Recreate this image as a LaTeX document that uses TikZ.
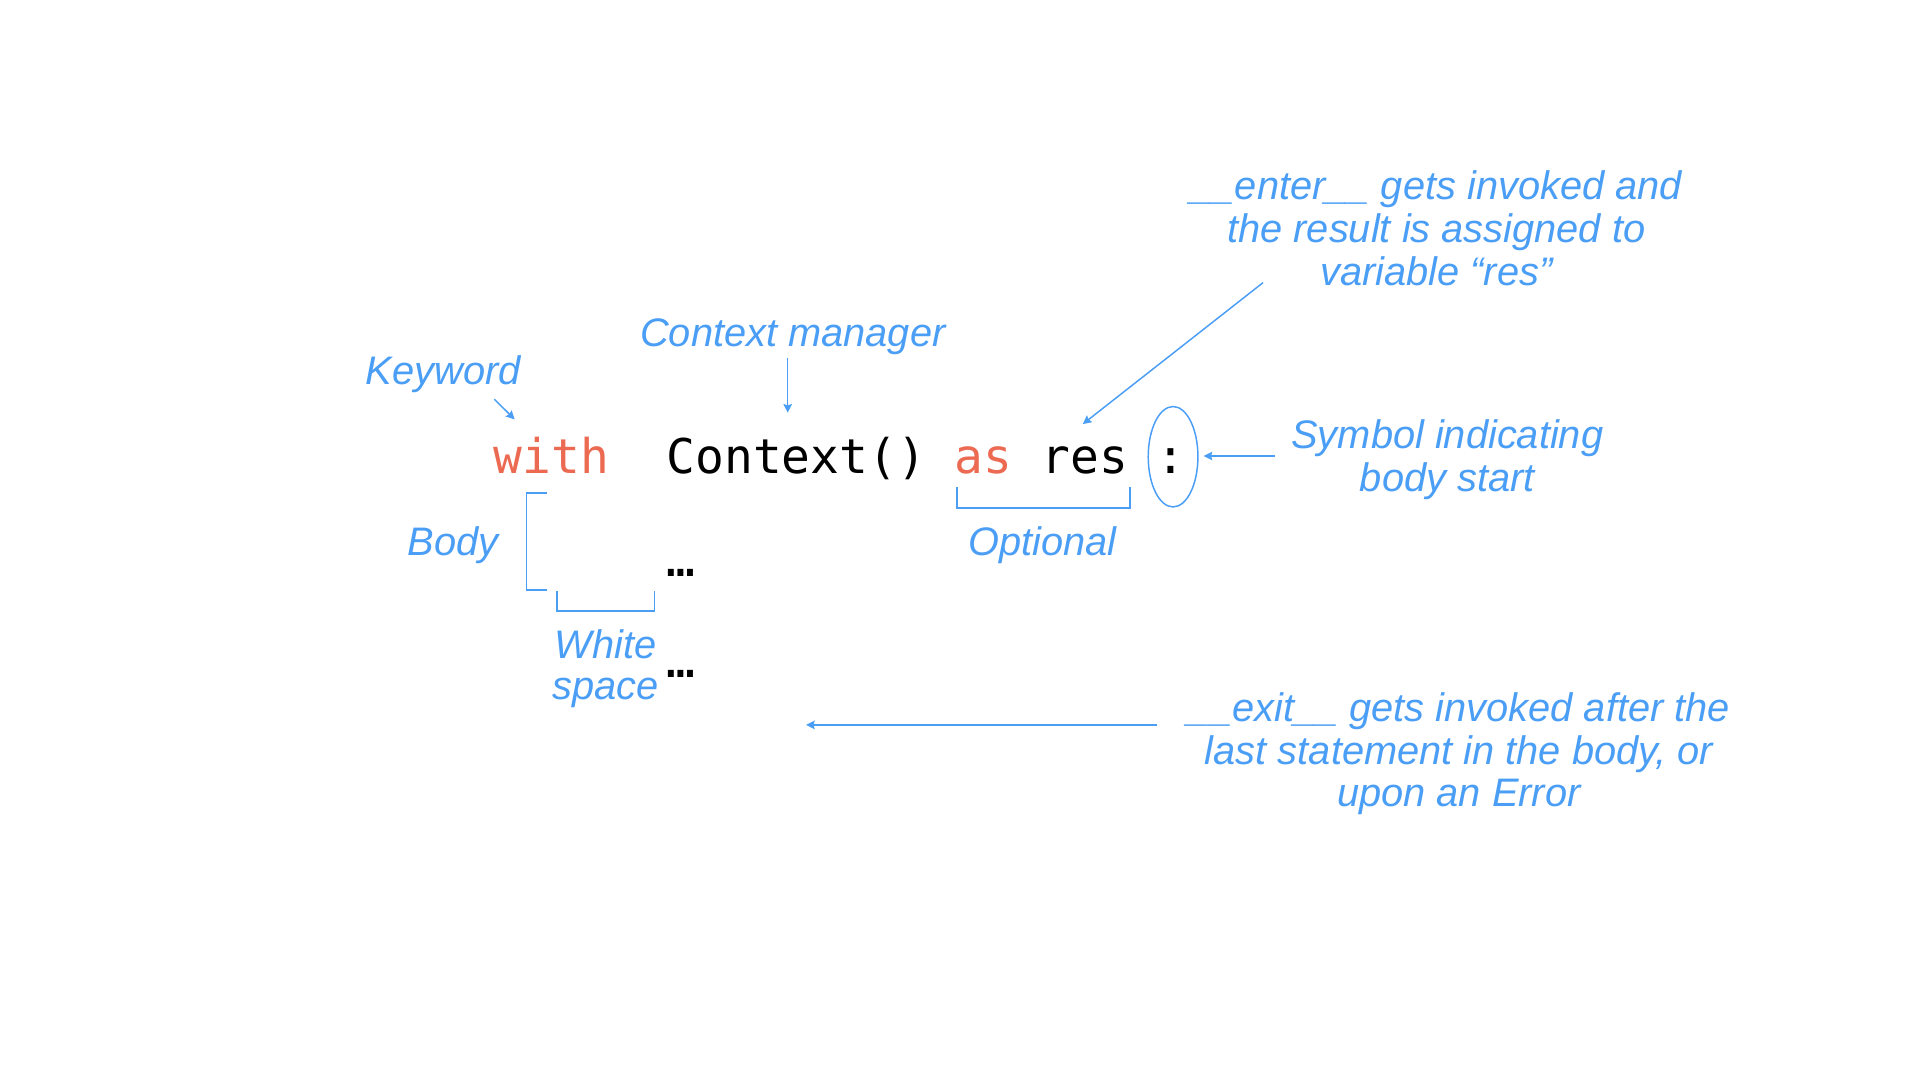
\documentclass[tikz,border=0pt]{standalone}
\usepackage{fontspec}
\setmainfont{Liberation Sans}
\newfontfamily\codefont{DejaVu Sans Mono}
\usetikzlibrary{arrows.meta,shapes.geometric}
\definecolor{blu}{RGB}{74,158,245}
\definecolor{kw}{RGB}{236,106,82}
\tikzset{
  lbl/.style={font=\fontsize{32.5}{35}\selectfont\itshape, text=blu, inner sep=0pt, align=center},
  codetxt/.style={font=\codefont\fontsize{39.1}{40}\selectfont, inner sep=0pt, text=black},
  arr/.style={draw=blu, line width=1.2pt, -{Stealth[length=7pt,width=7pt,inset=1pt]}},
  brk/.style={draw=blu, line width=1.2pt},
}
\begin{document}
\begin{tikzpicture}[x=1pt,y=-1pt]
\useasboundingbox[fill=white] (0,0) rectangle (1568,882);
% code
\node[codetxt, anchor=base west] (line1) at (403,387) {\textcolor{kw}{with}\ \ Context() \textcolor{kw}{as} res :};
\node[codetxt, anchor=base west] (dots1) at (544.3,470.5) {…};
\node[codetxt, anchor=base west] (dots2) at (544.3,553) {…};
% labels (base anchor = baseline of last line)
\node[lbl, anchor=base] (kwl) at (362,314) {Keyword};
\node[lbl, anchor=base] (cml) at (647.5,283) {Context manager};
\node[lbl, anchor=base] (bodyl) at (370,454) {Body};
\node[lbl, anchor=base] (optl) at (851.5,454) {Optional};
\node[lbl, anchor=base, font=\fontsize{32.5}{33}\selectfont\itshape] (wsl) at (494.5,571) {White\\space};
\node[lbl, anchor=base] (enterl) at (1173,233) {\_\_enter\_\_ gets invoked and\\the result is assigned to\\variable “res”};
\node[lbl, anchor=base] (syml) at (1182,401) {Symbol indicating\\body start};
\node[lbl, anchor=base] (exitl) at (1191.5,659) {\_\_exit\_\_ gets invoked after the\\last statement in the body, or\\upon an Error};
% colon ellipse
\node[ellipse, draw=blu, line width=1.2pt, minimum width=40.6pt, minimum height=82pt, inner sep=0pt] (colon) at (958,373) {};
% arrow end points
\coordinate (kwA) at (403.7,326);
\coordinate (kwB) at (420.3,342.5);
\coordinate (cmA) at (643.3,292.5);
\coordinate (cmB) at (643.3,337);
\coordinate (enA) at (1031.5,230.8);
\coordinate (enB) at (884.3,346.3);
\coordinate (syA) at (1041,372.4);
\coordinate (syB) at (983,372.4);
\coordinate (exA) at (944.8,592);
\coordinate (exB) at (658.3,592);
\draw[arr] (kwA) -- (kwB);
\draw[arr] (cmA) -- (cmB);
\draw[arr] (enA) -- (enB);
\draw[arr] (syA) -- (syB);
\draw[arr] (exA) -- (exB);
% brackets
\draw[brk] (446.7,402.5) -- (430,402.5) -- (430,482) -- (446.5,482);
\draw[brk] (455,482.6) -- (455,499) -- (534.7,499) -- (534.7,483);
\draw[brk] (781.4,398) -- (781.4,415) -- (923,415) -- (923,398);
\end{tikzpicture}
\end{document}
